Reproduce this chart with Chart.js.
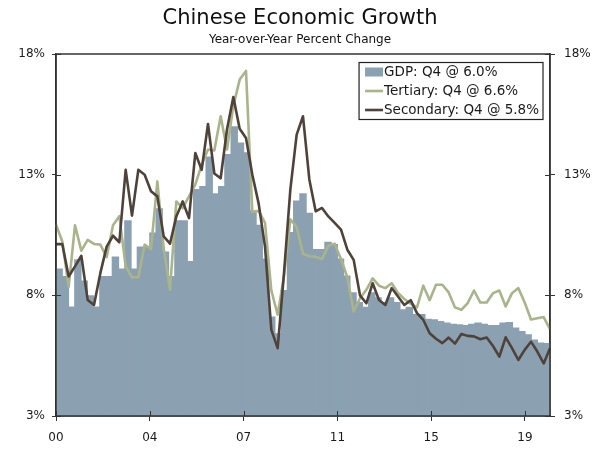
<!DOCTYPE html>
<html>
<head>
<meta charset="utf-8">
<script src="https://cdn.jsdelivr.net/npm/chart.js@4.4.1/dist/chart.umd.min.js"></script>
<style>
html,body{margin:0;padding:0;background:#ffffff;}
#wrap{width:600px;height:454px;}
</style>
</head>
<body>
<div id="wrap"><canvas id="c" width="600" height="454"></canvas></div>
<script>
// ---- Data (quarterly, 2000 Q2 to 2019 Q4), year-over-year % change ----
const startYear = 2000;
const startQuarter = 2;

const gdp = [
  9.09, 8.78, 7.51, 9.47, 8.59, 7.98, 7.51, 8.78, 8.78, 9.58,
  9.09, 11.09, 9.09, 10.0, 10.0, 10.58, 11.58, 9.79, 8.78, 11.09,
  11.09, 9.4, 12.38, 12.51, 13.73, 12.2, 12.51, 13.83, 14.98, 14.31,
  13.9, 11.5, 10.9, 9.5, 7.1, 6.4, 8.2, 10.6, 11.9, 12.2,
  11.4, 9.9, 9.9, 10.2, 10.1, 9.5, 8.8, 8.1, 7.7, 7.5,
  8.1, 7.9, 7.7, 7.9, 7.7, 7.4, 7.5, 7.2, 7.2, 7.0,
  6.98, 6.91, 6.85, 6.8, 6.78, 6.75, 6.8, 6.85, 6.8, 6.75,
  6.75, 6.85, 6.87, 6.64, 6.5, 6.36, 6.15, 6.02, 6.0
];

const tertiary = [
  10.93, 10.23, 8.35, 10.9, 9.85, 10.3, 10.13, 10.1, 9.58, 10.9,
  11.28, 9.2, 8.75, 8.75, 10.1, 9.92, 12.72, 9.96, 8.23, 11.89,
  11.61, 12.1, 12.6, 13.4, 14.04, 14.0, 15.42, 14.04, 15.84, 16.94,
  17.3, 11.45, 11.5, 11.0, 8.2, 7.2, 8.8, 11.15, 10.83, 9.72,
  9.62, 9.6, 9.5, 10.05, 10.14, 9.5, 8.75, 7.33, 7.88, 8.23,
  8.7, 8.4, 8.3, 8.5, 8.1, 7.85, 7.65, 7.5, 8.4, 7.8,
  8.44, 8.44, 8.12, 7.5, 7.4, 7.68, 8.2, 7.7, 7.7, 8.09,
  8.2, 7.54, 8.09, 8.3, 7.7, 7.0, 7.05, 7.1, 6.6
];

const secondary = [
  10.12, 10.12, 8.78, 9.2, 9.64, 7.81, 7.6, 8.92, 10.02, 10.47,
  10.2, 13.2, 11.3, 13.2, 13.0, 12.31, 12.1, 10.44, 10.14, 11.27,
  11.89, 11.2, 13.9, 13.2, 15.1, 13.05, 12.85, 14.87, 16.22, 14.9,
  14.52, 13.0, 11.8, 10.02, 6.57, 5.81, 8.92, 12.38, 14.66, 15.42,
  12.8, 11.48, 11.62, 11.27, 11.0, 10.72, 9.89, 9.47, 8.0, 7.67,
  8.5, 7.81, 7.6, 8.3, 7.95, 7.6, 7.8, 7.26, 6.98, 6.43,
  6.2, 6.02, 6.25, 6.0, 6.4, 6.32, 6.3, 6.18, 6.25, 5.9,
  5.46, 6.26, 5.81, 5.32, 5.74, 6.08, 5.67, 5.18, 5.81
];

const seriesNames = ['GDP: Q4 @ 6.0%', 'Tertiary: Q4 @ 6.6%', 'Secondary: Q4 @ 5.8%'];
const yTicks = [3, 8, 13, 18];
const xTickIndex = [0, 15, 30, 45, 60, 75];
const xTickLabels = ['00', '04', '07', '11', '15', '19'];
const titleText = 'Chinese Economic Growth';
const subtitleText = 'Year-over-Year Percent Change';

// category labels (quarters)
const quarters = gdp.map(function (_, i) {
  const q = startQuarter - 1 + i;
  return (startYear + Math.floor(q / 4)) + ' Q' + (q % 4 + 1);
});

const FONT = "'DejaVu Sans', Verdana, sans-serif";
const TXT = '#1a1a1a';
const AXIS = '#333333';

const framePlugin = {
  id: 'framePlugin',
  afterDatasetsDraw(chart) {
    const ctx = chart.ctx, a = chart.chartArea, s = chart.scales;
    ctx.save();
    ctx.strokeStyle = AXIS;
    ctx.lineWidth = 1;
    ctx.beginPath();
    s.y.ticks.forEach(function (t) {
      const py = Math.round(s.y.getPixelForValue(t.value)) + 0.5;
      ctx.moveTo(a.left, py); ctx.lineTo(a.left + 5, py);
      ctx.moveTo(a.right - 5, py); ctx.lineTo(a.right, py);
    });
    s.xt.ticks.forEach(function (t) {
      const px = Math.round(s.xt.getPixelForValue(t.value)) + 0.5;
      ctx.moveTo(px, a.bottom - 5); ctx.lineTo(px, a.bottom);
    });
    ctx.stroke();
    ctx.lineWidth = 1.5;
    ctx.strokeRect(a.left, a.top, a.right - a.left, a.bottom - a.top);
    ctx.restore();
  }
};

const boxLegend = {
  id: 'boxLegend',
  afterDraw(chart) {
    const ctx = chart.ctx, a = chart.chartArea;
    const ds = chart.data.datasets;
    ctx.save();
    ctx.font = '13.5px ' + FONT;
    const rowH = 19, sw = 18, padL = 6, gap = 1, padR = 4;
    let tw = 0;
    ds.forEach(function (d) { tw = Math.max(tw, ctx.measureText(d.label).width); });
    const w = padL + sw + gap + tw + padR;
    const h = rowH * ds.length;
    const right = a.right - 7, top = a.top + 8.5, left = right - w;
    ctx.fillStyle = '#ffffff';
    ctx.fillRect(left, top, w, h);
    ctx.strokeStyle = '#222222';
    ctx.lineWidth = 1.2;
    ctx.strokeRect(left, top, w, h);
    ds.forEach(function (d, i) {
      const cy = top + rowH * (i + 0.5);
      const sx = left + padL;
      if (d.type === 'bar') {
        ctx.fillStyle = d.backgroundColor;
        ctx.fillRect(sx, cy - 4.5, sw, 9);
      } else {
        ctx.strokeStyle = d.borderColor;
        ctx.lineWidth = d.borderWidth;
        ctx.beginPath();
        ctx.moveTo(sx, cy); ctx.lineTo(sx + sw, cy);
        ctx.stroke();
      }
      ctx.fillStyle = TXT;
      ctx.textBaseline = 'middle';
      ctx.textAlign = 'left';
      ctx.fillText(d.label, sx + sw + gap, cy + 0.5);
    });
    ctx.restore();
  }
};

const tickFont = { family: FONT, size: 12 };

new Chart(document.getElementById('c'), {
  type: 'bar',
  data: {
    labels: quarters,
    datasets: [
      {
        type: 'bar', label: seriesNames[0], data: gdp,
        backgroundColor: '#8ba1b1', borderWidth: 0,
        barPercentage: 1.0, categoryPercentage: 1.0, grouped: false, inflateAmount: 0.6,
        xAxisID: 'x', yAxisID: 'y', order: 3
      },
      {
        type: 'line', label: seriesNames[1], data: tertiary,
        borderColor: '#a9b48b', borderWidth: 2.6, pointRadius: 0, tension: 0,
        fill: false, borderJoinStyle: 'round',
        xAxisID: 'xl', yAxisID: 'y', order: 2
      },
      {
        type: 'line', label: seriesNames[2], data: secondary,
        borderColor: '#4f423a', borderWidth: 2.6, pointRadius: 0, tension: 0,
        fill: false, borderJoinStyle: 'round',
        xAxisID: 'xl', yAxisID: 'y', order: 1
      }
    ]
  },
  options: {
    responsive: false,
    animation: false,
    layout: { padding: 0 },
    datasets: {
      bar: { barPercentage: 1.0, categoryPercentage: 1.0, grouped: false }
    },
    plugins: {
      legend: { display: false },
      tooltip: { enabled: false },
      title: {
        display: true, text: titleText, color: '#111',
        font: { family: FONT, size: 21, weight: 'normal' },
        padding: { top: 6, bottom: 0 }
      },
      subtitle: {
        display: true, text: subtitleText, color: '#111',
        font: { family: FONT, size: 12, weight: 'normal' },
        padding: { top: 1, bottom: 7.4 }
      }
    },
    scales: {
      x: { type: 'category', display: false, offset: true, grid: { display: false, offset: true } },
      xl: { type: 'category', display: false, offset: false, grid: { display: false, offset: false } },
      xt: {
        type: 'linear', position: 'bottom', min: 0, max: gdp.length, offset: false,
        afterBuildTicks: function (s) { s.ticks = xTickIndex.map(function (v) { return { value: v }; }); },
        afterFit: function (s) { s.height = 38; },
        ticks: {
          callback: function (v) { return xTickLabels[xTickIndex.indexOf(v)]; },
          font: tickFont, color: TXT, padding: 10, maxRotation: 0, autoSkip: false
        },
        grid: { offset: false, drawOnChartArea: false, drawTicks: true, tickLength: 5, tickColor: AXIS, tickWidth: 1 },
        border: { color: AXIS, width: 1.5 }
      },
      y: {
        position: 'left', min: 3, max: 18,
        afterBuildTicks: function (s) { s.ticks = yTicks.map(function (v) { return { value: v }; }); },
        afterFit: function (s) { s.width = 56; },
        ticks: { callback: function (v) { return v + '%'; }, font: tickFont, color: TXT, padding: 7 },
        grid: { drawOnChartArea: false, drawTicks: true, tickLength: 4, tickColor: AXIS, tickWidth: 1 },
        border: { color: AXIS, width: 1.5 }
      },
      y2: {
        position: 'right', min: 3, max: 18,
        afterBuildTicks: function (s) { s.ticks = yTicks.map(function (v) { return { value: v }; }); },
        afterFit: function (s) { s.width = 50; },
        ticks: { callback: function (v) { return v + '%'; }, font: tickFont, color: TXT, padding: 9 },
        grid: { drawOnChartArea: false, drawTicks: true, tickLength: 5, tickColor: AXIS, tickWidth: 1 },
        border: { color: AXIS, width: 1.5 }
      }
    }
  },
  plugins: [framePlugin, boxLegend]
});
</script>
</body>
</html>
